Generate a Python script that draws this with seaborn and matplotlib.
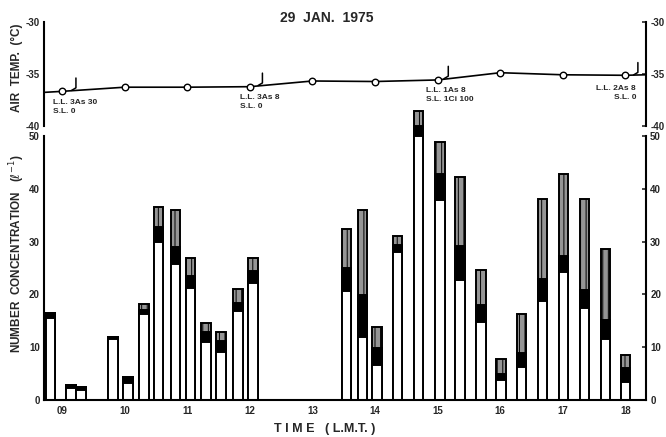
import numpy as np
import pandas as pd
import matplotlib
matplotlib.use("Agg")
import matplotlib.pyplot as plt
import seaborn as sns

# ---------------- data ----------------
bar_hours = [8.81, 9.14, 9.30, 9.81, 10.05, 10.31, 10.54, 10.81, 11.05, 11.30,
             11.54, 11.81, 12.05, 13.54, 13.80, 14.03, 14.36, 14.69, 15.04, 15.36,
             15.69, 16.01, 16.34, 16.68, 17.01, 17.35, 17.68, 18.00]
# cumulative tops of the stacked segments (l^-1)
white_top = [15.6, 2.3, 1.8, 11.5, 3.3, 16.2, 30.0, 25.8, 21.2, 11.0,
             9.0, 16.8, 22.2, 20.6, 11.9, 6.7, 28.0, 50.0, 37.8, 22.8,
             14.8, 3.8, 6.2, 18.7, 24.2, 17.4, 11.5, 3.5]
black_top = [16.5, 2.9, 2.4, 11.9, 4.4, 17.0, 32.7, 28.9, 23.5, 12.8,
             11.2, 18.4, 24.4, 25.0, 19.9, 9.9, 29.4, 51.8, 42.8, 29.1,
             18.0, 5.0, 8.9, 22.9, 27.2, 20.9, 15.2, 6.0]
total_top = [16.5, 2.9, 2.4, 11.9, 4.4, 18.2, 36.6, 36.0, 26.9, 14.5,
             12.8, 21.1, 26.8, 32.4, 36.0, 13.8, 31.1, 54.7, 48.8, 42.3,
             24.6, 7.7, 16.2, 38.0, 42.8, 38.0, 28.6, 8.6]

temp_hours = [9, 10, 11, 12, 13, 14, 15, 16, 17, 18]
air_temp = [-36.7, -36.3, -36.3, -36.25, -35.7, -35.75, -35.6, -34.9, -35.1, -35.15]
temp_edge_hours = [8.71, 18.33]
temp_edge_values = [-36.8, -35.1]

cloud_hours = [9.22, 12.2, 15.17, 18.2]
cloud_notes = ["L.L. 3As 30\nS.L. 0", "L.L. 3As 8\nS.L. 0",
               "L.L. 1As 8\nS.L. 1Ci 100", "L.L. 2As 8\nS.L. 0"]

hour_ticks = [9, 10, 11, 12, 13, 14, 15, 16, 17, 18]
hour_labels = ["09", "10", "11", "12", "13", "14", "15", "16", "17", "18"]
conc_ticks = [0, 10, 20, 30, 40, 50]
temp_ticks = [-40, -35, -30]

# ---------------- style ----------------
sns.set_style("white")
plt.rcParams["font.family"] = ["Liberation Sans", "DejaVu Sans"]
plt.rcParams["hatch.linewidth"] = 0.7

XMIN, XMAX = 8.71, 18.33
fig = plt.figure(figsize=(6.66, 4.37), dpi=100)
ax_t = fig.add_axes([0.0661, 0.7128, 0.9039, 0.2369])
ax_b = fig.add_axes([0.0661, 0.0847, 0.9039, 0.6041])

# ---------------- bars ----------------
df = pd.DataFrame({"hour": bar_hours, "white": white_top,
                   "black": black_top, "total": total_top})
common = dict(data=df, x="hour", native_scale=True, errorbar=None,
              saturation=1, edgecolor="black", linewidth=1.4, ax=ax_b)
sns.barplot(y="total", color="#959595", hatch="|||", clip_on=False, **common)
sns.barplot(y="black", color="black", clip_on=False, **common)
sns.barplot(y="white", color="white", clip_on=False, **common)
bw = 0.15
for p in ax_b.patches:
    c = p.get_x() + p.get_width() / 2
    p.set_x(c - bw / 2)
    p.set_width(bw)
    p.set_clip_on(False)

ax_b.set_xlim(XMIN, XMAX)
ax_b.set_ylim(0, 50)
ax_b.set_xticks(hour_ticks)
ax_b.set_xticklabels(hour_labels, fontsize=7, fontweight="bold")
ax_b.set_yticks(conc_ticks)
ax_b.set_yticklabels([str(v) for v in conc_ticks], fontsize=7, fontweight="bold")
ax_b.tick_params(axis="y", direction="in", length=3, width=1.2, right=True,
                 labelright=True, pad=3)
ax_b.tick_params(axis="x", length=0, pad=4)
ax_b.set_xlabel("")
ax_b.set_ylabel("")
for s in ["left", "right", "bottom"]:
    ax_b.spines[s].set_linewidth(1.5)
    ax_b.spines[s].set_color("black")
ax_b.spines["top"].set_visible(False)

# ---------------- air temperature ----------------
line_h = [temp_edge_hours[0]] + temp_hours + [temp_edge_hours[1]]
line_v = [temp_edge_values[0]] + air_temp + [temp_edge_values[1]]
tdf = pd.DataFrame({"hour": line_h, "temp": line_v})
sns.lineplot(data=tdf, x="hour", y="temp", color="black", linewidth=1.2, ax=ax_t)
pdf = pd.DataFrame({"hour": temp_hours, "temp": air_temp})
sns.scatterplot(data=pdf, x="hour", y="temp", s=22, facecolor="white",
                edgecolor="black", linewidth=1.0, zorder=3, ax=ax_t)

for i, (h, note) in enumerate(zip(cloud_hours, cloud_notes)):
    T = np.interp(h, line_h, line_v)
    ax_t.plot([h - 0.07, h, h], [T, T + 0.25, T + 1.2], color="black", lw=1.1)
    if i == len(cloud_hours) - 1:
        ax_t.text(h - 0.03, T - 0.95, note, ha="right", va="top", fontsize=6,
                  fontweight="bold", linespacing=1.4)
    else:
        ax_t.text(h - 0.36, T - 0.8, note, ha="left", va="top", fontsize=6,
                  fontweight="bold", linespacing=1.4)

ax_t.set_xlim(XMIN, XMAX)
ax_t.set_ylim(-40, -30)
ax_t.set_xticks([])
ax_t.set_yticks(temp_ticks)
ax_t.set_yticklabels([str(v) for v in temp_ticks], fontsize=7, fontweight="bold")
ax_t.tick_params(axis="y", direction="in", length=3, width=1.2, right=True,
                 labelright=True, pad=3)
ax_t.set_xlabel("")
ax_t.set_ylabel("")
for s in ["top", "bottom"]:
    ax_t.spines[s].set_visible(False)
for s in ["left", "right"]:
    ax_t.spines[s].set_linewidth(1.5)
    ax_t.spines[s].set_color("black")
ax_t.patch.set_alpha(0)

# ---------------- labels ----------------
fig.text(0.49, 0.958, "29  JAN.  1975", ha="center", va="center",
         fontsize=10, fontweight="bold")
fig.text(0.0255, 0.844, "AIR  TEMP.  (°C)", rotation=90, ha="center",
         va="center", fontsize=8.5, fontweight="bold")
fig.text(0.0255, 0.42, "NUMBER  CONCENTRATION   ($\\ell^{-1}$)", rotation=90,
         ha="center", va="center", fontsize=8.5, fontweight="bold")
fig.text(0.488, 0.018, "T I M E   ( L.M.T. )", ha="center", va="center",
         fontsize=9, fontweight="bold")

fig.savefig("out.png", dpi=100)
